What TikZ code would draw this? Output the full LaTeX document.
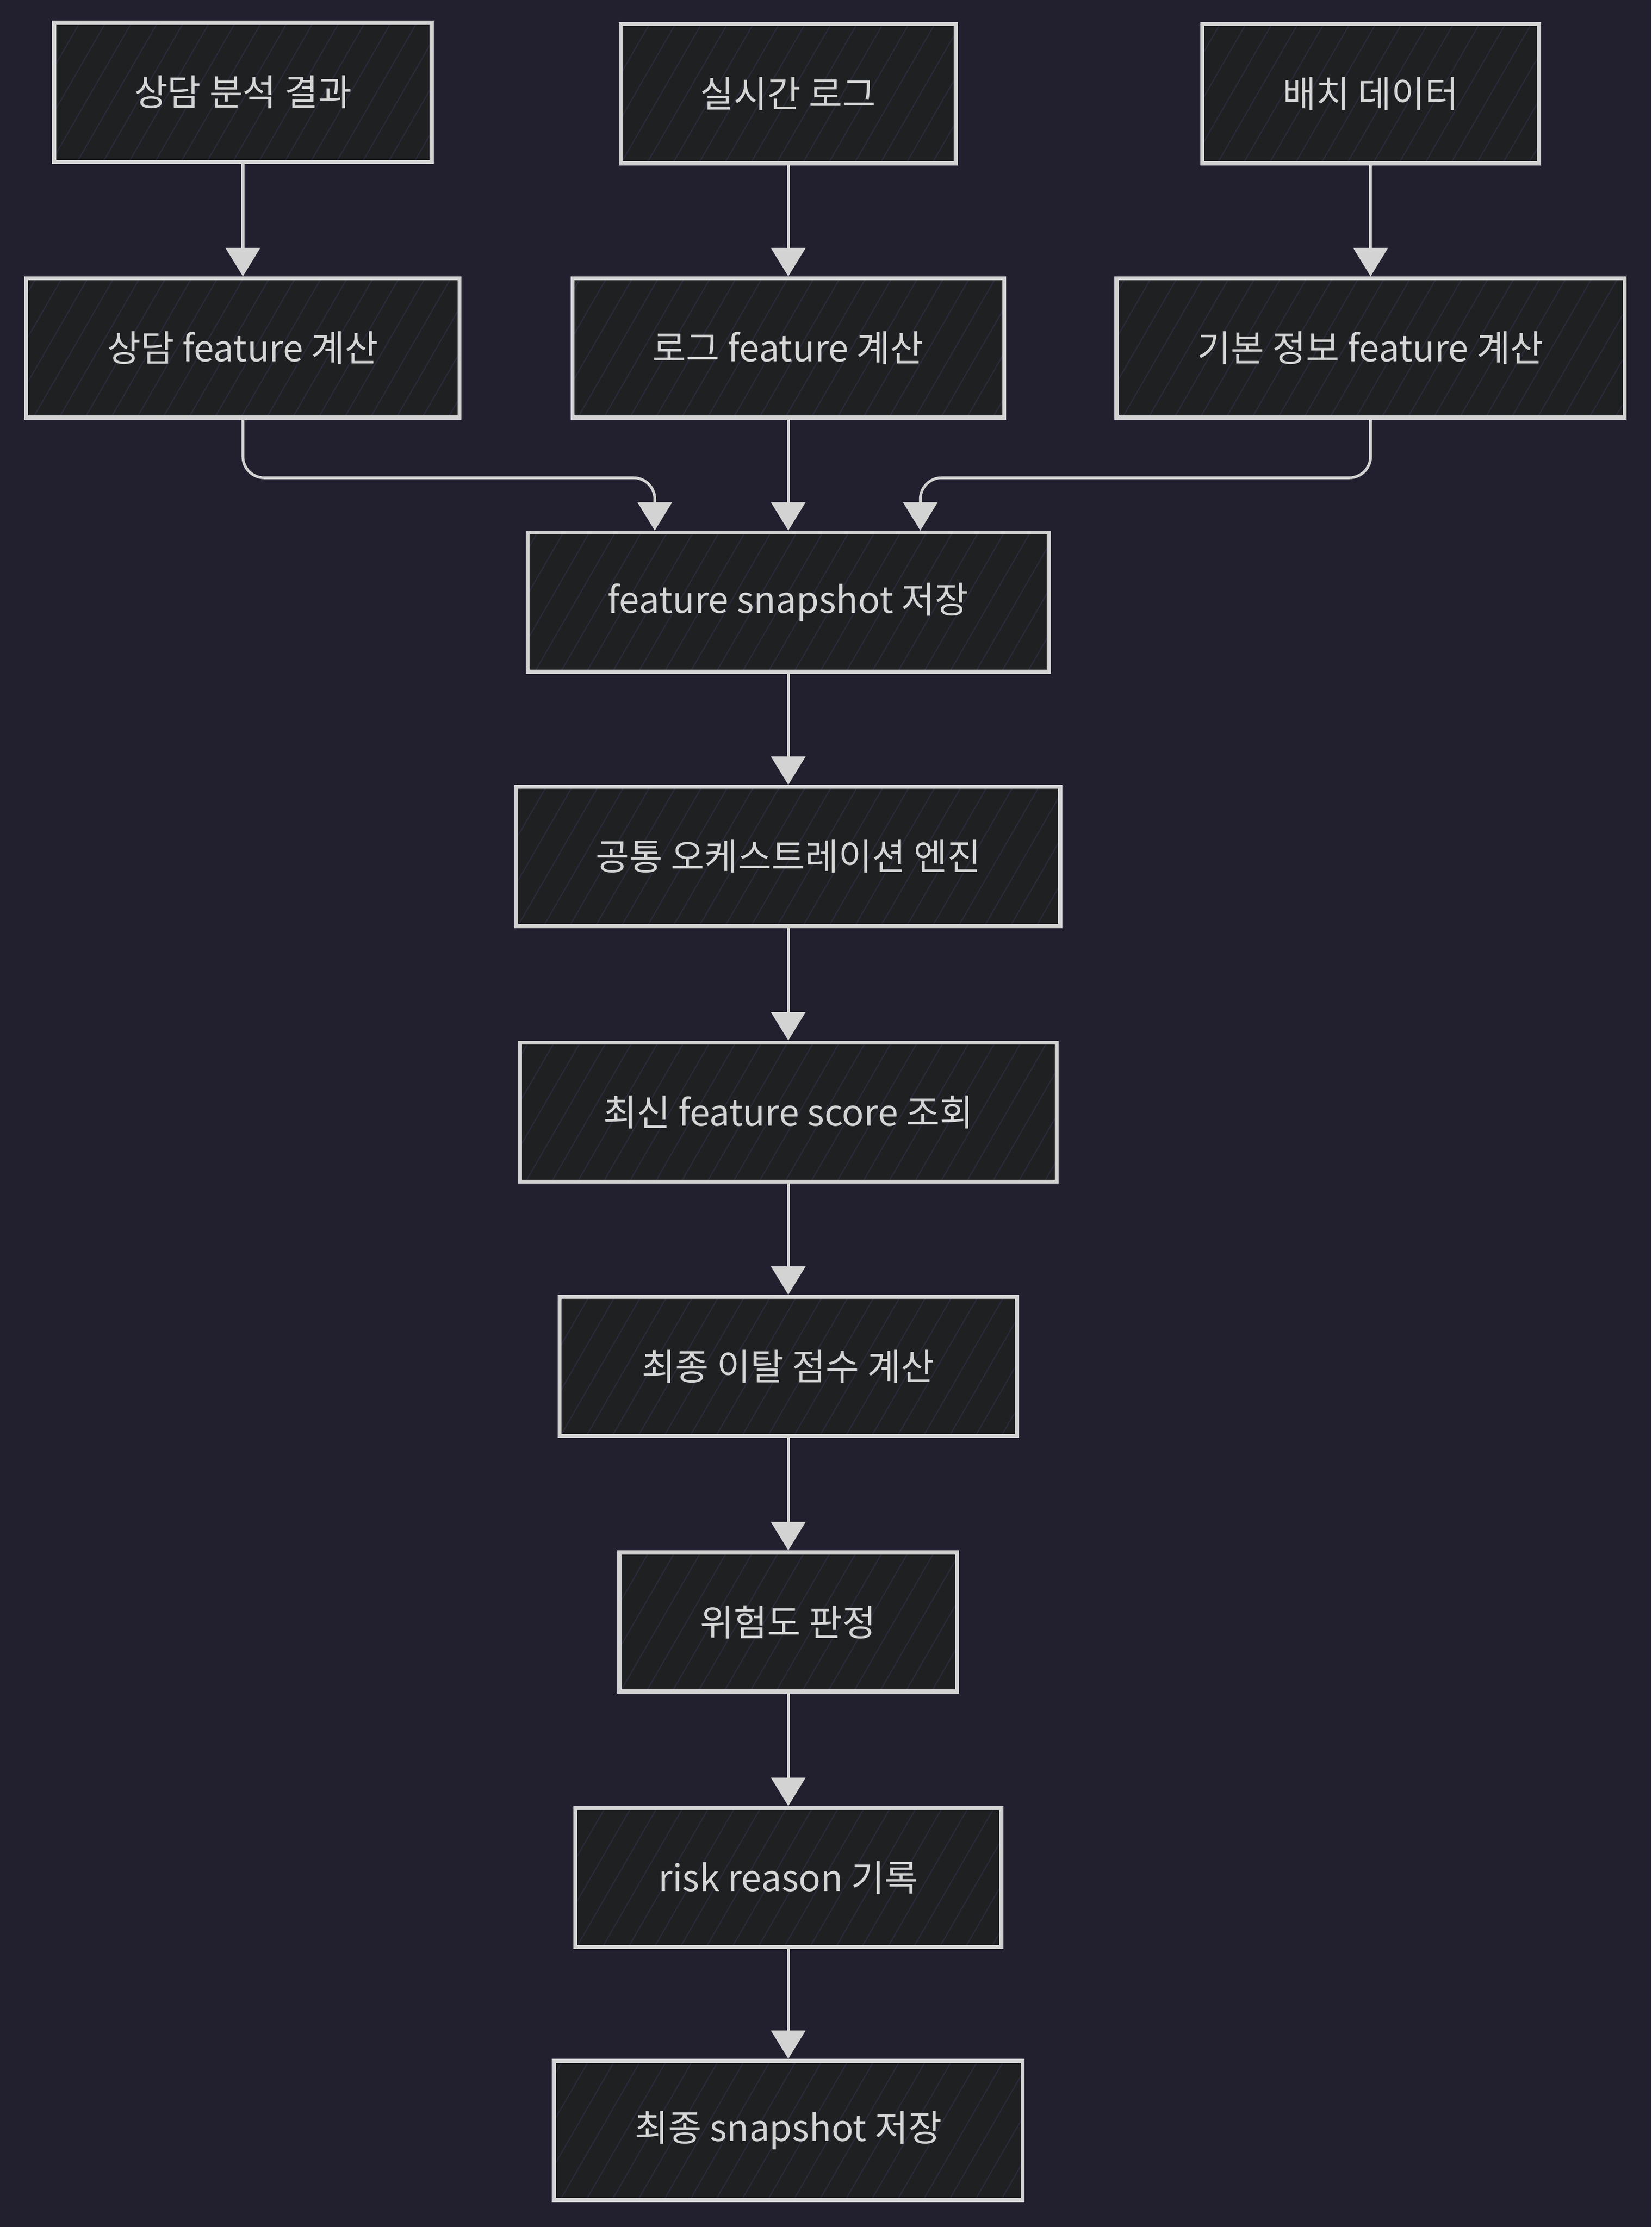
\documentclass[tikz,border=0pt]{standalone}
\usepackage{fontspec}
\setmainfont{Noto Sans CJK KR}
\usetikzlibrary{arrows.meta,patterns.meta}
\definecolor{bgcol}{HTML}{22202F}
\definecolor{boxcol}{HTML}{1F2022}
\definecolor{linecol}{HTML}{D3D3D3}
\definecolor{hatchcol}{HTML}{2A2938}
\begin{document}
\begin{tikzpicture}[x=0.02cm,y=-0.02cm,
	stepbox/.style={draw=linecol,line width=1.6pt,text=linecol!95!white,
		preaction={fill=boxcol},
		preaction={pattern={Lines[angle=60,distance=9pt,line width=0.5pt]},pattern color=hatchcol},
		minimum height=1.96cm,font=\fontsize{14.6}{18}\selectfont},
	link/.style={draw=linecol,line width=1.1pt,-{Triangle[width=0.48cm,length=0.4cm]}},
	]
	\fill[bgcol] (0,0) rectangle (1162.8,1568);
	\useasboundingbox (0,0) rectangle (1162.8,1568);
			% sources
			\node[stepbox,minimum width=5.32cm] (src1) at (171,65) {상담 분석 결과};
			\node[stepbox,minimum width=4.72cm] (src2) at (555,66) {실시간 로그};
			\node[stepbox,minimum width=4.74cm] (src3) at (965,66) {배치 데이터};
			% features
			\node[stepbox,minimum width=6.10cm] (feat1) at (171,245) {상담 feature 계산};
			\node[stepbox,minimum width=6.08cm] (feat2) at (555,245) {로그 feature 계산};
			\node[stepbox,minimum width=7.16cm] (feat3) at (965,245) {기본 정보 feature 계산};
			% main flow
			\node[stepbox,minimum width=7.34cm] (snap) at (555,424) {feature snapshot 저장};
			\node[stepbox,minimum width=7.66cm] (engine) at (555,603) {공통 오케스트레이션 엔진};
			\node[stepbox,minimum width=7.56cm] (score) at (555,783) {최신 feature score 조회};
			\node[stepbox,minimum width=6.44cm] (churn) at (555,962) {최종 이탈 점수 계산};
			\node[stepbox,minimum width=4.76cm] (risk) at (555,1142) {위험도 판정};
			\node[stepbox,minimum width=6.00cm] (reason) at (555,1322) {risk reason 기록};
			\node[stepbox,minimum width=6.60cm] (final) at (555,1500) {최종 snapshot 저장};
			\draw[link] (src1) -- (feat1);
			\draw[link] (src2) -- (feat2);
			\draw[link] (src3) -- (feat3);
			\draw[link,rounded corners=0.3cm] (feat1.south) -- ++(0,41) -| ([xshift=-1.88cm]snap.north);
			\draw[link] (feat2) -- (snap);
			\draw[link,rounded corners=0.3cm] (feat3.south) -- ++(0,41) -| ([xshift=1.86cm]snap.north);
			\draw[link] (snap) -- (engine);
			\draw[link] (engine) -- (score);
			\draw[link] (score) -- (churn);
			\draw[link] (churn) -- (risk);
			\draw[link] (risk) -- (reason);
			\draw[link] (reason) -- (final);
		\end{tikzpicture}
\end{document}
